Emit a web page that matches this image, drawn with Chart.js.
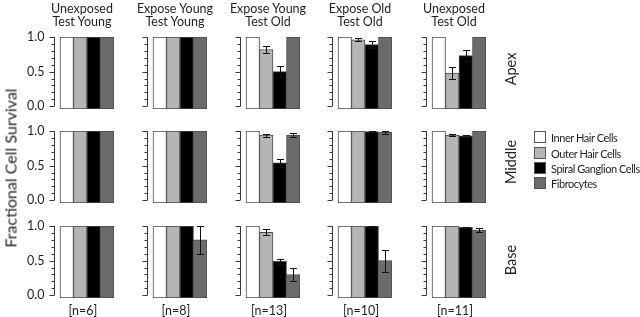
<!DOCTYPE html>
<html>
<head>
<meta charset="utf-8">
<script src="https://cdn.jsdelivr.net/npm/chart.js@4.4.1/dist/chart.umd.min.js"></script>
<style>
  body { margin: 0; background: #fff; width: 640px; height: 317px; overflow: hidden; position: relative; font-family: Lato, "Open Sans", sans-serif; color: #231f20; }
  canvas.panel { position: absolute; }
  .txt { position: absolute; white-space: nowrap; }
  .coltitle { font-size: 12.5px; line-height: 13px; text-align: center; width: 110px; }
  .nlabel { font-size: 12.5px; text-align: center; width: 60px; }
  .rowlabel { font-size: 14.5px; transform: translate(-50%, -50%) rotate(-90deg); }
  .ytitle { font-size: 16px; transform: translate(-50%, -50%) rotate(-90deg); }
  .legend { font-size: 11px; line-height: 15px; letter-spacing: -0.45px; }
  .swatch { display: inline-block; width: 10px; height: 10px; border: 1px solid #555; margin-right: 5px; vertical-align: -1px; }
</style>
</head>
<body>
<script>
// cell types in bar order
var cellTypes = ['Inner Hair Cells', 'Outer Hair Cells', 'Spiral Ganglion Cells', 'Fibrocytes'];
var cellColors = ['#ffffff', '#b5b5b5', '#000000', '#6b6b6b'];

var columnTitles = [
    ['Unexposed', 'Test Young'],
    ['Expose Young', 'Test Young'],
    ['Expose Young', 'Test Old'],
    ['Expose Old', 'Test Old'],
    ['Unexposed', 'Test Old']
];
var sampleLabels = ['[n=6]', '[n=8]', '[n=13]', '[n=10]', '[n=11]'];
var rowLabels = ['Apex', 'Middle', 'Base'];
var tickValues = [0, 0.1, 0.2, 0.3, 0.4, 0.5, 0.6, 0.7, 0.8, 0.9, 1.0];
var tickLabels = ['0.0', '0.5', '1.0'];

// one inner array per column: IHC, OHC, SGC, Fibrocytes
var apexValues = [
    [1, 1, 1, 1],
    [1, 1, 1, 1],
    [1, 0.82, 0.50, 1],
    [1, 0.96, 0.89, 1],
    [1, 0.48, 0.73, 1]
];
var apexErrors = [
    [0, 0, 0, 0],
    [0, 0, 0, 0],
    [0, 0.05, 0.08, 0],
    [0, 0.02, 0.05, 0],
    [0, 0.09, 0.08, 0]
];
var middleValues = [
    [1, 1, 1, 1],
    [1, 1, 1, 1],
    [1, 0.94, 0.54, 0.94],
    [1, 1, 0.99, 0.98],
    [1, 0.94, 0.93, 1]
];
var middleErrors = [
    [0, 0, 0, 0],
    [0, 0, 0, 0],
    [0, 0.02, 0.06, 0.03],
    [0, 0, 0.005, 0.02],
    [0, 0.015, 0.01, 0]
];
var baseValues = [
    [1, 1, 1, 1],
    [1, 1, 1, 0.80],
    [1, 0.91, 0.49, 0.30],
    [1, 1, 0.995, 0.50],
    [1, 1, 0.98, 0.94]
];
var baseErrors = [
    [0, 0, 0, 0],
    [0, 0, 0, 0.20],
    [0, 0.04, 0.04, 0.09],
    [0, 0, 0.005, 0.16],
    [0, 0, 0.01, 0.025]
];

var rowValues = [apexValues, middleValues, baseValues];
var rowErrors = [apexErrors, middleErrors, baseErrors];

// layout (pixels)
var yMin = -0.04;
var barsLeft = [60, 153, 246, 338, 432];
var barsWidth = 54;
var axisGap = 6;
var rowTop = [36.5, 131, 226];
var unitHeight = 70;
var padL = 40, padT = 6, padR = 4, padB = 6;

// axis line, ticks, tick labels and error bars
var panelPlugin = {
    id: 'panelDecor',
    afterDatasetsDraw: function(chart, args, opts) {
        var ctx = chart.ctx;
        var y = chart.scales.y;
        var area = chart.chartArea;
        var ax = area.left + 0.5;
        ctx.save();
        ctx.strokeStyle = '#3a3a3a';
        ctx.lineWidth = 1;
        ctx.beginPath();
        ctx.moveTo(ax, y.getPixelForValue(1));
        ctx.lineTo(ax, y.getPixelForValue(0));
        tickValues.forEach(function(v, i) {
            var py = Math.round(y.getPixelForValue(v)) + 0.5;
            var len = (i % 5 === 0) ? 5 : 3;
            ctx.moveTo(ax - len, py);
            ctx.lineTo(ax, py);
        });
        ctx.stroke();

        if (opts.showLabels) {
            ctx.fillStyle = '#231f20';
            ctx.font = '12.5px Lato, "Open Sans", sans-serif';
            ctx.textAlign = 'right';
            ctx.textBaseline = 'middle';
            tickLabels.forEach(function(t) {
                ctx.fillText(t, ax - 10, y.getPixelForValue(parseFloat(t)));
            });
        }

        // error bars
        var meta = chart.getDatasetMeta(0);
        var vals = chart.data.datasets[0].data;
        ctx.strokeStyle = '#111';
        ctx.beginPath();
        opts.errors.forEach(function(e, i) {
            if (!e) return;
            var bx = Math.round(meta.data[i].x) + 0.5;
            var v = vals[i].y;
            var top = Math.round(y.getPixelForValue(v + e)) + 0.5;
            var bot = Math.round(y.getPixelForValue(v - e)) + 0.5;
            ctx.moveTo(bx, top); ctx.lineTo(bx, bot);
            ctx.moveTo(bx - 3.5, top); ctx.lineTo(bx + 3.5, top);
            ctx.moveTo(bx - 3.5, bot); ctx.lineTo(bx + 3.5, bot);
        });
        ctx.stroke();
        ctx.restore();
    }
};

function addText(cls, html, left, top) {
    var d = document.createElement('div');
    d.className = 'txt ' + cls;
    d.innerHTML = html;
    d.style.left = left + 'px';
    d.style.top = top + 'px';
    document.body.appendChild(d);
    return d;
}

rowValues.forEach(function(vals, r) {
    vals.forEach(function(colVals, c) {
        var axisX = barsLeft[c] - axisGap;
        var areaW = barsWidth + axisGap;
        var areaH = unitHeight * (1 - yMin);
        var cv = document.createElement('canvas');
        cv.className = 'panel';
        cv.width = padL + areaW + padR;
        cv.height = padT + areaH + padB;
        cv.style.left = (axisX - padL) + 'px';
        cv.style.top = (rowTop[r] - padT) + 'px';
        cv.style.width = cv.width + 'px';
        cv.style.height = cv.height + 'px';
        document.body.appendChild(cv);

        var barUnit = barsWidth / 4;
        new Chart(cv.getContext('2d'), {
            type: 'bar',
            data: {
                datasets: [{
                    data: colVals.map(function(v, i) { return { x: i, y: v }; }),
                    backgroundColor: cellColors,
                    borderColor: '#4a4a4a',
                    borderWidth: 1,
                    borderSkipped: false,
                    base: yMin,
                    barPercentage: 1,
                    categoryPercentage: 1
                }]
            },
            options: {
                responsive: false,
                animation: false,
                devicePixelRatio: 1,
                layout: { padding: { left: padL, top: padT, right: padR, bottom: padB } },
                scales: {
                    x: { type: 'linear', display: false, offset: false,
                         min: -0.5 - axisGap / barUnit, max: 3.5 },
                    y: { display: false, min: yMin, max: 1 }
                },
                plugins: {
                    legend: { display: false },
                    tooltip: { enabled: false },
                    panelDecor: { showLabels: c === 0, errors: rowErrors[r][c] }
                }
            },
            plugins: [panelPlugin]
        });
    });
});

// column titles and sample sizes
columnTitles.forEach(function(t, c) {
    var cx = barsLeft[c] - axisGap + (barsWidth + axisGap) / 2 - 2;
    addText('coltitle', t[0] + '<br>' + t[1], cx - 55, 2);
    addText('nlabel', sampleLabels[c], barsLeft[c] + barsWidth / 2 - 34, 303);
});

// row labels
var rowLabelY = [69, 162, 260];
rowLabels.forEach(function(l, r) {
    addText('rowlabel', l, 510, rowLabelY[r]);
});

addText('ytitle', 'Fractional Cell Survival', 10, 168);

// legend
var legendY = [130, 146, 161, 176];
cellTypes.forEach(function(name, i) {
    addText('legend', '<span class="swatch" style="background:' + cellColors[i] + '"></span>' + name, 534, legendY[i]);
});
</script>
</body>
</html>
